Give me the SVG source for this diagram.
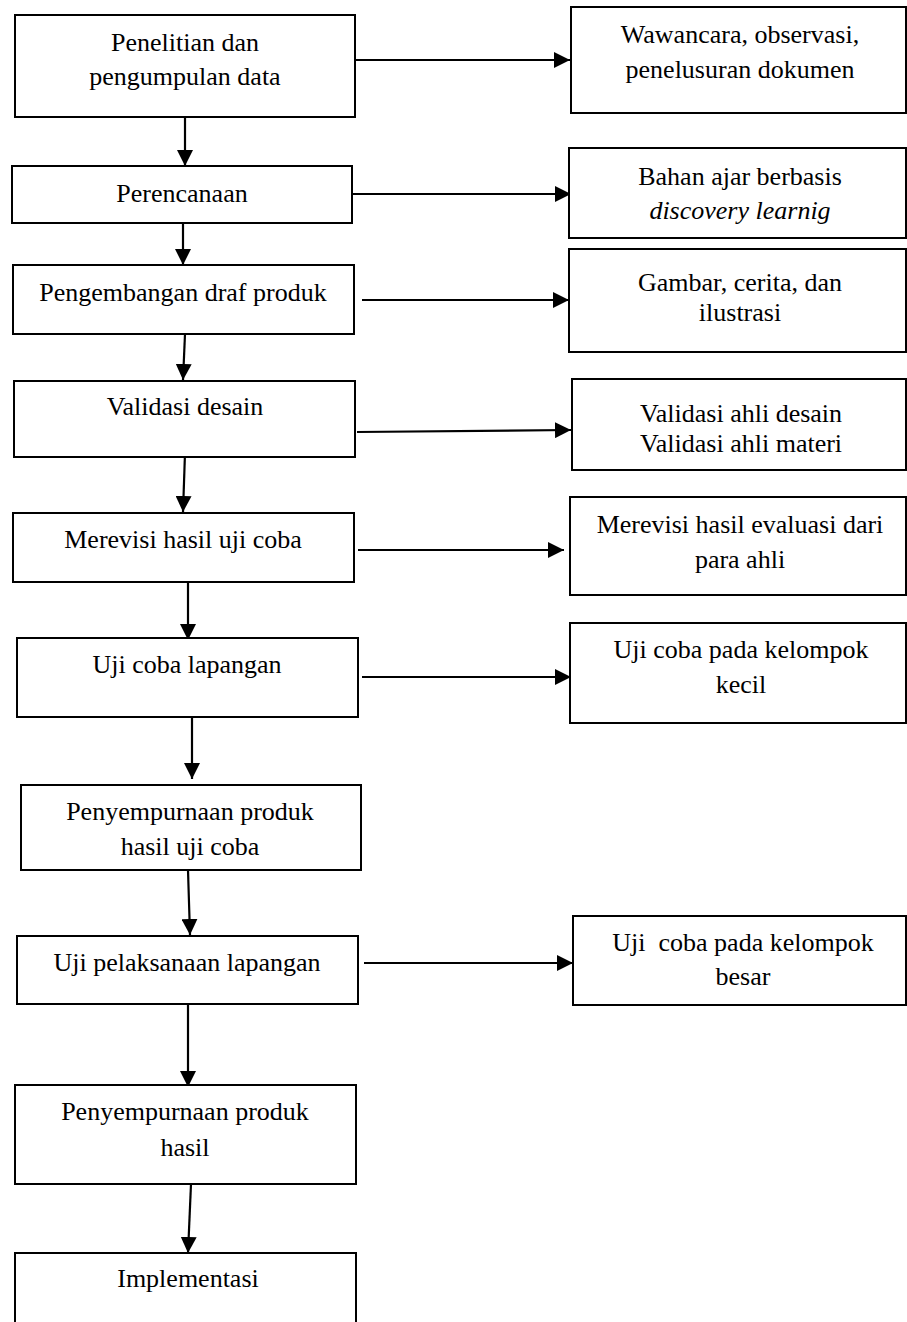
<svg xmlns="http://www.w3.org/2000/svg" width="907" height="1322" viewBox="0 0 907 1322">
<style>
.box{fill:#fff;stroke:#000;stroke-width:2}
.t{font-family:"Liberation Serif","Times New Roman",serif;font-size:26px;fill:#000;text-anchor:middle}
.it{font-style:italic}
.c{stroke:#000;stroke-width:2.2;fill:none;marker-end:url(#ah)}
</style>
<defs>
<marker id="ah" markerUnits="userSpaceOnUse" markerWidth="16" markerHeight="16" refX="16" refY="8" orient="auto">
<path d="M0,0 L16,8 L0,16 Z" fill="#000"/>
</marker>
</defs>
<rect width="907" height="1322" fill="#fff"/>
<g id="connectors">
<line class="c" x1="185" y1="117" x2="185" y2="166"/>
<line class="c" x1="183" y1="223" x2="183" y2="265"/>
<line class="c" x1="185" y1="334" x2="183" y2="380"/>
<line class="c" x1="185" y1="453" x2="183" y2="512"/>
<line class="c" x1="188" y1="582" x2="188" y2="640"/>
<line class="c" x1="192" y1="717" x2="192" y2="779"/>
<line class="c" x1="188" y1="870" x2="190" y2="935"/>
<line class="c" x1="188" y1="1005" x2="188" y2="1087"/>
<line class="c" x1="191" y1="1184" x2="188" y2="1253"/>
<line class="c" x1="355" y1="60" x2="570" y2="60"/>
<line class="c" x1="353" y1="194" x2="571" y2="194"/>
<line class="c" x1="362" y1="300" x2="569" y2="300"/>
<line class="c" x1="357" y1="432" x2="571" y2="430"/>
<line class="c" x1="358" y1="550" x2="564" y2="550"/>
<line class="c" x1="362" y1="677" x2="571" y2="677"/>
<line class="c" x1="364" y1="963" x2="573" y2="963"/>
</g>
<g id="n1"><rect class="box" x="15" y="15" width="340" height="102"/><text class="t" x="185" y="51">Penelitian dan</text><text class="t" x="185" y="85">pengumpulan data</text></g>
<g id="n2"><rect class="box" x="12" y="166" width="340" height="57"/><text class="t" x="182" y="202">Perencanaan</text></g>
<g id="n3"><rect class="box" x="13" y="265" width="341" height="69"/><text class="t" x="183" y="301">Pengembangan draf produk</text></g>
<g id="n4"><rect class="box" x="14" y="381" width="341" height="76"/><text class="t" x="185" y="415">Validasi desain</text></g>
<g id="n5"><rect class="box" x="13" y="513" width="341" height="69"/><text class="t" x="183" y="548">Merevisi hasil uji coba</text></g>
<g id="n6"><rect class="box" x="17" y="638" width="341" height="79"/><text class="t" x="187" y="673">Uji coba lapangan</text></g>
<g id="n7"><rect class="box" x="21" y="785" width="340" height="85"/><text class="t" x="190" y="820">Penyempurnaan produk</text><text class="t" x="190" y="855">hasil uji coba</text></g>
<g id="n8"><rect class="box" x="17" y="936" width="341" height="68"/><text class="t" x="187" y="971">Uji pelaksanaan lapangan</text></g>
<g id="n9"><rect class="box" x="15" y="1085" width="341" height="99"/><text class="t" x="185" y="1120">Penyempurnaan produk</text><text class="t" x="185" y="1156">hasil</text></g>
<g id="n10"><rect class="box" x="15" y="1253" width="341" height="90"/><text class="t" x="188" y="1287">Implementasi</text></g>
<g id="r1"><rect class="box" x="571" y="7" width="335" height="106"/><text class="t" x="740" y="43">Wawancara, observasi,</text><text class="t" x="740" y="78">penelusuran dokumen</text></g>
<g id="r2"><rect class="box" x="569" y="148" width="337" height="90"/><text class="t" x="740" y="185">Bahan ajar berbasis</text><text class="t it" x="740" y="219">discovery learnig</text></g>
<g id="r3"><rect class="box" x="569" y="249" width="337" height="103"/><text class="t" x="740" y="291">Gambar, cerita, dan</text><text class="t" x="740" y="321">ilustrasi</text></g>
<g id="r4"><rect class="box" x="572" y="379" width="334" height="91"/><text class="t" x="741" y="422">Validasi ahli desain</text><text class="t" x="741" y="452">Validasi ahli materi</text></g>
<g id="r5"><rect class="box" x="570" y="497" width="336" height="98"/><text class="t" x="740" y="533">Merevisi hasil evaluasi dari</text><text class="t" x="740" y="568">para ahli</text></g>
<g id="r6"><rect class="box" x="570" y="623" width="336" height="100"/><text class="t" x="741" y="658">Uji coba pada kelompok</text><text class="t" x="741" y="693">kecil</text></g>
<g id="r8"><rect class="box" x="573" y="916" width="333" height="89"/><text class="t" x="743" y="951" xml:space="preserve">Uji  coba pada kelompok</text><text class="t" x="743" y="985">besar</text></g>
</svg>
